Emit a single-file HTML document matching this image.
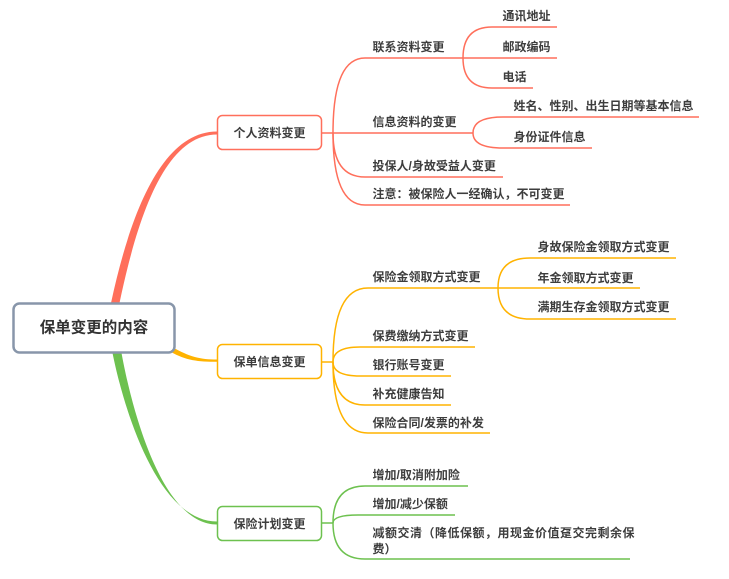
<!DOCTYPE html>
<html>
<head>
<meta charset="utf-8">
<style>
html,body{margin:0;padding:0;background:#fff;}
svg{display:block;}
text{font-family:"Liberation Sans","Noto Sans CJK SC",sans-serif;font-weight:bold;fill:#3d3d3d;font-size:12px;dominant-baseline:central;}
</style>
</head>
<body>
<svg width="729" height="579" viewBox="0 0 729 579" xmlns="http://www.w3.org/2000/svg">
  <!-- L1 tapered connectors -->
  <path d="M111,303 C131,210 163,131.5 217,131.5 L217,134.5 C167,134.5 139,210 119.5,303 Z" fill="#FF6F5B"/>
  <path d="M112.5,353 C124,410 158,521.5 217,521.5 L217,524.5 C162,524.5 132,410 121.5,353 Z" fill="#6DC14F"/>
  <path d="M172,347 C190,357 200,359.5 217,359.5 L217,361.8 C198,361.8 186,360.5 171,352 Z" fill="#FFB300"/>

  <!-- Top branch (red) -->
  <g fill="none" stroke="#FF6F5B" stroke-width="1.5">
    <path d="M322,133 H333"/>
    <path d="M333,133 Q333,58 365,58 H463"/>
    <path d="M333,133 H473"/>
    <path d="M333,133 Q333,177 365,177 H503"/>
    <path d="M333,133 Q333,205 365,205 H570"/>
    <path d="M463,58 Q463,27 492,27 H557"/>
    <path d="M463,58 H557"/>
    <path d="M463,58 Q463,88 492,88 H533"/>
    <path d="M473,133 Q473,117 503,117 H699"/>
    <path d="M473,133 Q473,148 503,148 H592"/>
  </g>

  <!-- Middle branch (orange) -->
  <g fill="none" stroke="#FFB300" stroke-width="1.5">
    <path d="M322,362 H333"/>
    <path d="M333,362 Q333,288 368,288 H498"/>
    <path d="M498,288 Q498,258 530,258 H676"/>
    <path d="M498,288 H640"/>
    <path d="M498,288 Q498,319 530,319 H676"/>
    <path d="M333,362 Q333,347 360,347 H475"/>
    <path d="M333,362 Q333,376 360,376 H451"/>
    <path d="M333,362 Q333,405 365,405 H451"/>
    <path d="M333,362 Q333,433 368,433 H490"/>
  </g>

  <!-- Bottom branch (green) -->
  <g fill="none" stroke="#6DC14F" stroke-width="1.5">
    <path d="M322,523 H333"/>
    <path d="M333,523 Q333,486 365,486 H468"/>
    <path d="M333,523 Q333,515 358,515 H455"/>
    <path d="M333,523 Q333,559 365,559 H630"/>
  </g>

  <!-- Root -->
  <rect x="13.5" y="303.5" width="161" height="49" rx="6" ry="6" fill="#fff" stroke="#8896AA" stroke-width="2.5"/>
  <text x="94" y="328" text-anchor="middle" style="font-size:15.5px;fill:#333;">保单变更的内容</text>

  <!-- L1 nodes -->
  <rect x="217.5" y="115.5" width="104" height="34" rx="5" ry="5" fill="#fff" stroke="#FF6F5B" stroke-width="1.5"/>
  <text x="269.5" y="133" text-anchor="middle">个人资料变更</text>
  <rect x="217.5" y="344.5" width="104" height="34" rx="5" ry="5" fill="#fff" stroke="#FFB300" stroke-width="1.5"/>
  <text x="269.5" y="362" text-anchor="middle">保单信息变更</text>
  <rect x="217.5" y="506.5" width="104" height="34" rx="5" ry="5" fill="#fff" stroke="#6DC14F" stroke-width="1.5"/>
  <text x="269.5" y="524" text-anchor="middle">保险计划变更</text>

  <!-- Top labels -->
  <text x="372.5" y="47">联系资料变更</text>
  <text x="372.5" y="122">信息资料的变更</text>
  <text x="372.5" y="166">投保人/身故受益人变更</text>
  <text x="372.5" y="194">注意：被保险人一经确认，不可变更</text>
  <text x="502.5" y="16">通讯地址</text>
  <text x="502.5" y="47">邮政编码</text>
  <text x="502.5" y="77">电话</text>
  <text x="513.5" y="106">姓名、性别、出生日期等基本信息</text>
  <text x="513.5" y="137">身份证件信息</text>

  <!-- Middle labels -->
  <text x="372.5" y="277">保险金领取方式变更</text>
  <text x="372.5" y="336">保费缴纳方式变更</text>
  <text x="372.5" y="365">银行账号变更</text>
  <text x="372.5" y="394">补充健康告知</text>
  <text x="372.5" y="423">保险合同/发票的补发</text>
  <text x="537.5" y="247">身故保险金领取方式变更</text>
  <text x="537.5" y="278">年金领取方式变更</text>
  <text x="537.5" y="307">满期生存金领取方式变更</text>

  <!-- Bottom labels -->
  <text x="372.5" y="475">增加/取消附加险</text>
  <text x="372.5" y="504">增加/减少保额</text>
  <text x="372.5" y="533" style="letter-spacing:0.5px;">减额交清（降低保额，用现金价值趸交完剩余保</text>
  <text x="372.5" y="549">费）</text>
</svg>
</body>
</html>
